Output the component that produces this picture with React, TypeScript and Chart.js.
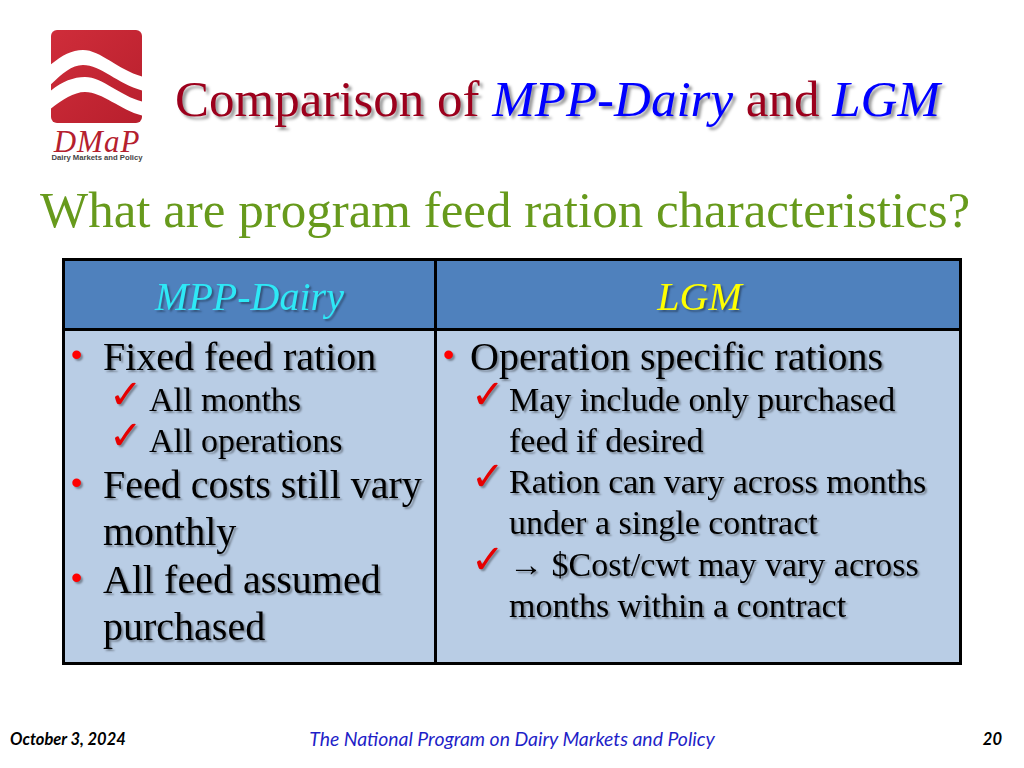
import React, { useEffect, useRef } from 'react';
import { Chart, registerables } from 'chart.js';

Chart.register(...registerables);

// ---- data ----
const columns = ['MPP-Dairy', 'LGM'];
const columnSpan = [5, 7];
const rows = ['header', 'body'];

const titleParts = [
  { text: 'Comparison of ', italic: false },
  { text: 'MPP-Dairy', italic: true },
  { text: ' and ', italic: false },
  { text: 'LGM', italic: true },
];
const subtitle = 'What are program feed ration characteristics?';

const col1Lines = [
  { kind: 'bullet', text: 'Fixed feed ration' },
  { kind: 'check', text: 'All months' },
  { kind: 'check', text: 'All operations' },
  { kind: 'bullet', text: 'Feed costs still vary' },
  { kind: 'cont', text: 'monthly' },
  { kind: 'bullet', text: 'All feed assumed' },
  { kind: 'cont', text: 'purchased' },
];
const col2Lines = [
  { kind: 'bullet', text: 'Operation specific rations' },
  { kind: 'check', text: 'May include only purchased' },
  { kind: 'checkcont', text: 'feed if desired' },
  { kind: 'check', text: 'Ration can vary across months' },
  { kind: 'checkcont', text: 'under a single contract' },
  { kind: 'check', text: '\u2192 $Cost/cwt may vary across' },
  { kind: 'checkcont', text: 'months within a contract' },
];
const footerDate = 'October 3, 2024';
const footerCenter = 'The National Program on Dairy Markets and Policy';
const footerPage = '20';

// ---- layout ----
const SERIF = '"Liberation Serif", "Times New Roman", serif';
const TABLE_LEFT = 62;
const TABLE_TOP = 258;
const TABLE_W = 900;
const HEADER_H = 73;
const BODY_H = 334;
const BORDER = 3;

const ASC: Record<string, number> = { serif: 0.8375, dejavu: 0.846, sans: 0.8415, lato: 0.887 };

function Txt(props: {
  x: number; baseline: number; size: number; fam?: string; family?: string; color?: string;
  italic?: boolean; bold?: boolean; shadow?: string; align?: 'left' | 'center' | 'right'; width?: number;
  spacing?: number; children: React.ReactNode;
}) {
  const fam = props.fam || 'serif';
  const top = props.baseline - ASC[fam] * props.size;
  const style: React.CSSProperties = {
    position: 'absolute',
    top,
    fontSize: props.size,
    lineHeight: props.size + 'px',
    fontFamily: props.family || SERIF,
    color: props.color || '#000',
    fontStyle: props.italic ? 'italic' : 'normal',
    fontWeight: props.bold ? 700 : 400,
    textShadow: props.shadow || 'none',
    letterSpacing: props.spacing || 0,
    whiteSpace: 'pre',
  };
  if (props.align === 'center') {
    style.left = props.x - (props.width || 400) / 2;
    style.width = props.width || 400;
    style.textAlign = 'center';
  } else if (props.align === 'right') {
    style.left = props.x - (props.width || 200);
    style.width = props.width || 200;
    style.textAlign = 'right';
  } else {
    style.left = props.x;
  }
  return <div style={style}>{props.children}</div>;
}

function RowChart({ row, color, top, height }: { row: string; color: string; top: number; height: number }) {
  const ref = useRef<HTMLCanvasElement>(null);
  useEffect(() => {
    const isHeader = row === rows[0];
    const total = columnSpan.reduce((a, b) => a + b, 0);
    const chart = new Chart(ref.current as HTMLCanvasElement, {
      type: 'bar',
      data: {
        labels: [row],
        datasets: columns.map((c, i) => ({
          label: c,
          data: [columnSpan[i]],
          backgroundColor: color,
          borderColor: '#000000',
          borderSkipped: false,
          borderWidth: { top: isHeader ? BORDER : 0, bottom: BORDER, left: i === 0 ? BORDER : 0, right: BORDER },
          barPercentage: 1,
          categoryPercentage: 1,
          inflateAmount: 0,
        })) as any,
      },
      options: {
        indexAxis: 'y',
        animation: false,
        responsive: true,
        maintainAspectRatio: false,
        events: [],
        layout: { padding: 0 },
        scales: {
          x: { type: 'linear', stacked: true, display: false, min: 0, max: total },
          y: { stacked: true, display: false },
        },
        plugins: { legend: { display: false }, tooltip: { enabled: false } },
      },
    });
    return () => chart.destroy();
  }, [row, color]);
  return (
    <div style={{ position: 'absolute', left: TABLE_LEFT, top, width: TABLE_W, height }}>
      <canvas ref={ref} />
    </div>
  );
}

function Logo() {
  return (
    <div style={{ position: 'absolute', left: 51, top: 30, width: 92, height: 135 }}>
      <svg width={91} height={93} viewBox="0 0 91 93" style={{ position: 'absolute', left: 0, top: 0 }}>
        <defs>
          <linearGradient id="lg" x1="0" y1="0" x2="1" y2="1">
            <stop offset="0" stopColor="#cf2d3a" />
            <stop offset="1" stopColor="#b81f2d" />
          </linearGradient>
          <clipPath id="cp"><rect x="0" y="0" width="91" height="93" rx="6" /></clipPath>
        </defs>
        <rect x="0" y="0" width="91" height="93" rx="6" fill="url(#lg)" />
        <g clipPath="url(#cp)" fill="#ffffff">
          <path d="M-2 36 C 10 26, 20 20, 32 20 C 50 20, 68 41, 93 47 L 93 61 C 68 55, 50 35, 32 35 C 20 35, 10 45, -2 56 Z" />
          <path d="M-2 62 C 10 52, 22 47, 34 47 C 52 47, 70 67, 93 72 L 93 86 C 70 81, 52 62, 34 62 C 22 62, 10 71, -2 80 Z" />
        </g>
      </svg>
      <div style={{ position: 'absolute', left: 0, top: 96, width: 92, textAlign: 'center', fontFamily: SERIF, fontStyle: 'italic', fontSize: 31, lineHeight: '31px', color: '#b5202e', letterSpacing: 1 }}>DMaP</div>
      <div style={{ position: 'absolute', left: 0, top: 123, width: 92, textAlign: 'center', fontFamily: '"Liberation Sans", Arial, sans-serif', fontWeight: 700, fontSize: 7.7, lineHeight: '10px', color: '#444', whiteSpace: 'nowrap' }}>Dairy Markets and Policy</div>
    </div>
  );
}

const BODY_SHADOW = '2px 2px 2px rgba(0,0,0,0.35)';
const col1Baselines = [370, 411, 452, 498, 545, 593, 640];
const col2Baselines = [370, 411, 452, 493, 534, 576, 617];

function Column({ lines, baselines, bulletX, textX, checkX, checkTextX }: any) {
  return (
    <>
      {lines.map((l: any, i: number) => {
        const b = baselines[i];
        const out: React.ReactNode[] = [];
        if (l.kind === 'bullet') {
          out.push(<Txt key={'b' + i} x={bulletX} baseline={b - 5} size={32} fam="sans" family='"Liberation Sans", Arial, sans-serif' color="#ff0000" shadow={BODY_SHADOW}>{'\u2022'}</Txt>);
        }
        if (l.kind === 'check') {
          out.push(<Txt key={'c' + i} x={checkX - 1} baseline={b - 3} size={40} fam="dejavu" family='"DejaVu Sans", sans-serif' color="#e60000" shadow={BODY_SHADOW}>{'\u2713'}</Txt>);
        }
        const big = l.kind === 'bullet' || l.kind === 'cont';
        out.push(
          <Txt key={'t' + i} x={big ? textX : checkTextX} baseline={b} size={big ? 40 : 34} shadow={BODY_SHADOW}>{l.text}</Txt>
        );
        return out;
      })}
    </>
  );
}

export default function App() {
  const colSplit = TABLE_LEFT + (TABLE_W * columnSpan[0]) / (columnSpan[0] + columnSpan[1]);
  return (
    <div style={{ position: 'absolute', left: 0, top: 0, width: 1024, height: 768, background: '#fff', overflow: 'hidden' }}>
      <Logo />
      <Txt x={175} baseline={117} size={51} color="#9c001c" shadow="3px 3px 3px rgba(0,0,0,0.4)">
        {titleParts.map((p, i) => (
          <span key={i} style={p.italic ? { fontStyle: 'italic', color: '#0000ff' } : undefined}>{p.text}</span>
        ))}
      </Txt>
      <Txt x={40} baseline={228} size={51} color="#679a1c">{subtitle}</Txt>

      <RowChart row={rows[0]} color="#4f81bd" top={TABLE_TOP} height={HEADER_H} />
      <RowChart row={rows[1]} color="#b9cde5" top={TABLE_TOP + HEADER_H} height={BODY_H} />

      <Txt x={(TABLE_LEFT + colSplit) / 2} baseline={310} size={40} italic color="#2ee8f6" align="center" width={360} shadow={BODY_SHADOW}>{columns[0]}</Txt>
      <Txt x={(colSplit + TABLE_LEFT + TABLE_W) / 2} baseline={310} size={40} italic color="#ffff00" align="center" width={360} shadow={BODY_SHADOW}>{columns[1]}</Txt>

      <Column lines={col1Lines} baselines={col1Baselines} bulletX={71} textX={103} checkX={110} checkTextX={149} />
      <Column lines={col2Lines} baselines={col2Baselines} bulletX={443} textX={470} checkX={472} checkTextX={509} />

      <Txt x={10} baseline={746} size={16.5} fam="lato" family="Lato, sans-serif" bold italic color="#000">{footerDate}</Txt>
      <Txt x={512} baseline={746} size={19.4} fam="lato" family="Lato, sans-serif" italic color="#1f1fc8" align="center" width={700}>{footerCenter}</Txt>
      <Txt x={1002} baseline={746} size={16.5} fam="lato" family="Lato, sans-serif" bold italic color="#000" align="right" width={60}>{footerPage}</Txt>
    </div>
  );
}
